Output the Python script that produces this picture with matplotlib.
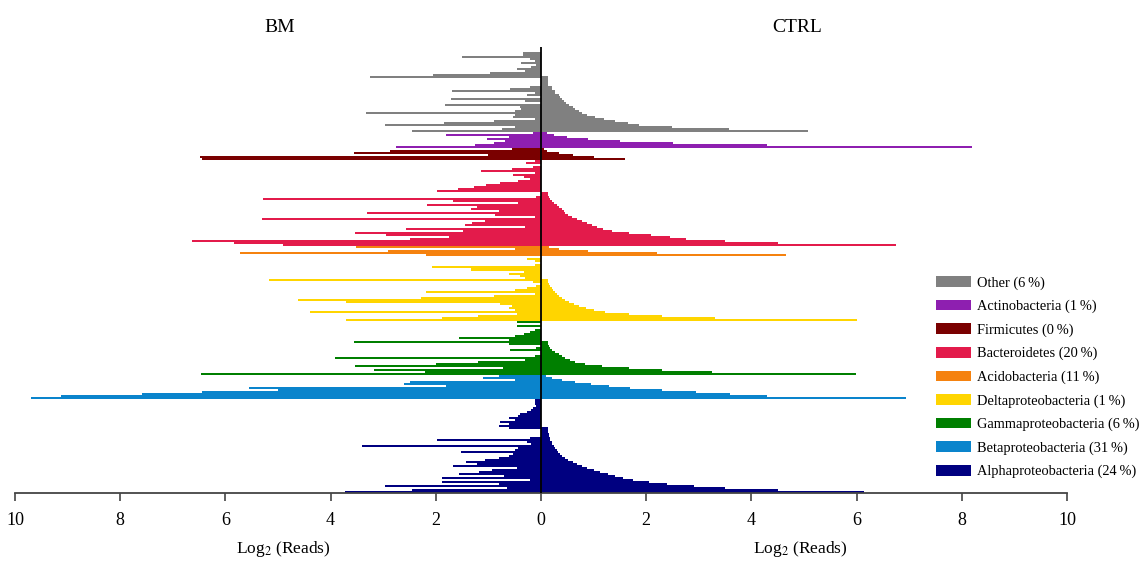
import numpy as np
import matplotlib
matplotlib.use("Agg")
import matplotlib.pyplot as plt
from matplotlib.patches import Patch

plt.rcParams['font.family'] = ['Liberation Serif', 'DejaVu Serif']
plt.rcParams['mathtext.fontset'] = 'stix'

# Log2 read counts per OTU, grouped by phylum (rows listed top to bottom)
phyla = ["Other", "Actinobacteria", "Firmicutes", "Bacteroidetes", "Acidobacteria",
         "Deltaproteobacteria", "Gammaproteobacteria", "Betaproteobacteria",
         "Alphaproteobacteria"]
shares = [6, 1, 0, 20, 11, 1, 6, 31, 24]
colors = ["#808080", "#8e1fb0", "#7a0000", "#e31b4b", "#f5820f",
          "#ffd500", "#007f00", "#0a84cc", "#000080"]

other_bm = [0.34, 0.34, 1.51, 0.2, 0.12, 0.38, 0.1, 0.19, 0.46, 0.3,
            0.97, 2.06, 3.25, 0.0, 0.0, 0.0, 0.0, 0.2, 0.58, 1.70,
            0.12, 0.26, 0.0, 1.71, 0.3, 0.0, 1.82, 0.4, 0.38, 0.5,
            3.33, 0.5, 0.54, 0.12, 0.9, 1.85, 2.97, 0.5, 0.75, 2.46]
other_ctrl = [0.0, 0.0, 0.0, 0.0, 0.0, 0.0, 0.0, 0.0, 0.0, 0.0,
              0.0, 0.0, 0.13, 0.13, 0.13, 0.13, 0.13, 0.21, 0.21, 0.27,
              0.27, 0.34, 0.37, 0.40, 0.43, 0.48, 0.53, 0.60, 0.65, 0.72,
              0.78, 0.88, 1.03, 1.2, 1.41, 1.65, 1.86, 2.49, 3.57, 5.08]

actino_bm = [0.15, 1.8, 0.6, 1.02, 0.68, 0.9, 1.25, 2.76]
actino_ctrl = [0.12, 0.25, 0.5, 0.9, 1.5, 2.5, 4.3, 8.2]

firmi_bm = [0.56, 2.87, 3.55, 1.0, 6.49, 6.45]
firmi_ctrl = [0.05, 0.12, 0.35, 0.6, 1.0, 1.59]

bactero_bm = [0.12, 0.29, 0.0, 0.15, 0.56, 1.14, 0.12, 0.53, 0.33, 0.2,
              0.43, 0.77, 1.04, 1.28, 1.58, 1.97, 0.0, 0.0, 0.1, 5.28,
              1.68, 0.43, 2.16, 1.21, 1.34, 0.8, 3.3, 0.87, 0.12, 5.3,
              1.07, 1.31, 1.45, 0.3, 2.57, 1.48, 3.53, 2.94, 1.75, 2.5,
              6.64, 5.84, 4.91]
bactero_ctrl = [0.0, 0.0, 0.0, 0.0, 0.0, 0.0, 0.0, 0.0, 0.0, 0.0,
                0.0, 0.0, 0.0, 0.0, 0.0, 0.0, 0.13, 0.13, 0.16, 0.18,
                0.21, 0.24, 0.3, 0.35, 0.39, 0.43, 0.46, 0.52, 0.58, 0.68,
                0.78, 0.87, 0.97, 1.06, 1.18, 1.35, 1.67, 2.1, 2.45, 2.75,
                3.5, 4.5, 6.74]

acido_bm = [3.52, 0.5, 2.9, 5.72, 2.19]
acido_ctrl = [0.15, 0.35, 0.9, 2.2, 4.65]

delta_bm = [0.0, 0.26, 0.12, 0.0, 0.12, 2.08, 1.34, 0.33, 0.6, 0.39,
            0.3, 5.17, 0.15, 0.0, 0.1, 0.26, 0.5, 2.18, 0.12, 0.9,
            2.29, 4.62, 3.71, 0.77, 0.56, 0.6, 0.5, 4.4, 0.46, 1.2,
            1.89, 3.7]
delta_ctrl = [0.0, 0.0, 0.0, 0.0, 0.0, 0.0, 0.0, 0.0, 0.0, 0.0,
              0.0, 0.13, 0.13, 0.15, 0.18, 0.2, 0.22, 0.27, 0.3, 0.34,
              0.4, 0.46, 0.53, 0.62, 0.72, 0.85, 1.0, 1.22, 1.67, 2.3,
              3.3, 6.0]

gamma_bm = [0.45, 0.0, 0.46, 0.0, 0.12, 0.2, 0.33, 0.5, 1.56, 0.6,
            3.56, 0.6, 0.0, 0.1, 0.58, 0.0, 0.0, 0.12, 3.92, 0.3,
            1.2, 1.99, 3.54, 0.73, 3.18, 2.2, 6.47]
gamma_ctrl = [0.0, 0.0, 0.0, 0.0, 0.0, 0.0, 0.0, 0.0, 0.0, 0.0,
              0.13, 0.13, 0.15, 0.18, 0.21, 0.27, 0.34, 0.4, 0.46, 0.56,
              0.65, 0.84, 1.16, 1.67, 2.3, 3.25, 5.98]

beta_bm = [0.8, 1.1, 0.5, 2.5, 2.6, 1.8, 5.55, 5.0, 6.45, 7.59, 9.12, 9.7]
beta_ctrl = [0.1, 0.2, 0.4, 0.65, 0.95, 1.3, 1.7, 2.3, 2.95, 3.6, 4.3, 6.93]

alpha_bm = [0.12, 0.12, 0.12, 0.1, 0.15, 0.19, 0.26, 0.4, 0.43, 0.6,
            0.5, 0.77, 0.6, 0.79, 0.6, 0.0, 0.0, 0.0, 0.0, 0.2,
            1.97, 0.26, 0.19, 3.4, 0.43, 0.5, 1.53, 0.53, 0.6, 0.8,
            1.07, 1.43, 1.21, 1.67, 0.45, 0.94, 1.17, 1.56, 0.7, 1.89,
            0.2, 1.88, 0.8, 2.97, 0.65, 2.46, 3.72]
alpha_ctrl = [0.0, 0.0, 0.0, 0.0, 0.0, 0.0, 0.0, 0.0, 0.0, 0.0,
              0.0, 0.0, 0.0, 0.0, 0.13, 0.13, 0.13, 0.15, 0.15, 0.18,
              0.18, 0.21, 0.21, 0.24, 0.27, 0.3, 0.33, 0.37, 0.4, 0.46,
              0.52, 0.6, 0.68, 0.78, 0.88, 1.0, 1.12, 1.27, 1.4, 1.55,
              1.75, 2.05, 2.4, 2.9, 3.5, 4.5, 6.15]

bm_groups = [other_bm, actino_bm, firmi_bm, bactero_bm, acido_bm,
             delta_bm, gamma_bm, beta_bm, alpha_bm]
ctrl_groups = [other_ctrl, actino_ctrl, firmi_ctrl, bactero_ctrl, acido_ctrl,
               delta_ctrl, gamma_ctrl, beta_ctrl, alpha_ctrl]

fig = plt.figure(figsize=(11.44, 5.62), dpi=100)
ax = fig.add_axes([15 / 1144, 1 - 493 / 562, 1052 / 1144, 446 / 562])

row = 0
for bm, ctrl, col in zip(bm_groups, ctrl_groups, colors):
    y = np.arange(row, row + len(bm))
    ax.barh(y, -np.array(bm), height=1.0, color=col, linewidth=0)
    ax.barh(y, np.array(ctrl), height=1.0, color=col, linewidth=0)
    row += len(bm)

ax.set_xlim(-10, 10)
ax.set_ylim(row - 0.5, -3.0)
ax.axvline(0, color="black", lw=1.3, zorder=5)

for s in ["left", "right", "top"]:
    ax.spines[s].set_visible(False)
ax.spines["bottom"].set_color("#444444")
ax.spines["bottom"].set_linewidth(1.3)
ax.set_yticks([])
ticks = np.arange(-10, 11, 2)
ax.set_xticks(ticks)
ax.set_xticklabels([str(abs(t)) for t in ticks], fontsize=13)
ax.tick_params(axis="x", length=6, width=1.2, color="#444444", pad=8)

fig.text(280 / 1144, 1 - 27 / 562, "BM", ha="center", va="center", fontsize=14)
fig.text(797 / 1144, 1 - 27 / 562, "CTRL", ha="center", va="center", fontsize=14)
fig.text(283 / 1144, 1 - 549 / 562, "Log$_2$ (Reads)", ha="center", va="center", fontsize=12.5)
fig.text(800 / 1144, 1 - 549 / 562, "Log$_2$ (Reads)", ha="center", va="center", fontsize=12.5)

handles = [Patch(facecolor=c, edgecolor="none") for c in colors]
labels = [f"{p} ({s}\u2009%)" for p, s in zip(phyla, shares)]
fig.legend(handles, labels, loc="upper left", bbox_to_anchor=(926 / 1144, 1 - 266 / 562),
           frameon=False, fontsize=10.4, handlelength=2.4, handleheight=0.75,
           labelspacing=0.7, handletextpad=0.4, borderpad=0.2)

fig.savefig("out.png", dpi=100)
